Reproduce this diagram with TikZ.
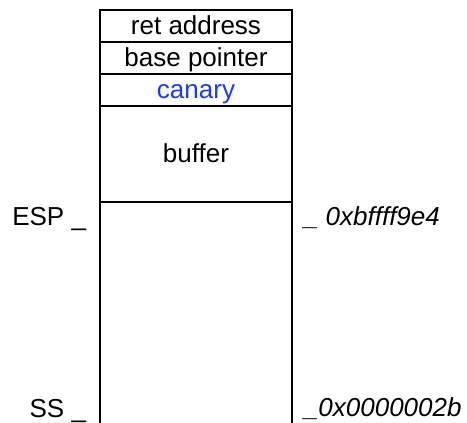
\documentclass[tikz,border=0pt]{standalone}
\usepackage{fontspec}
\setmainfont{Liberation Sans}
\definecolor{canaryblue}{RGB}{28,58,255}
\begin{document}
\begin{tikzpicture}[x=1pt,y=-1pt,
  every node/.style={font=\fontsize{26}{30}\selectfont},
  cell/.style={draw,line width=2pt,minimum width=192pt,inner sep=0pt,outer sep=0pt,
    text height=17pt,text depth=0.5pt,anchor=north west},
  lbl/.style={inner sep=0pt,outer sep=0pt}]
\useasboundingbox (0,0) rectangle (467,423);
\node[cell,minimum height=32pt] (ret) at (100,10) {ret address};
\node[cell,minimum height=32pt] (bp) at (100,42) {base pointer};
\node[cell,minimum height=32pt,text=canaryblue] (can) at (100,74) {canary};
\node[cell,minimum height=96pt] (buf) at (100,106) {buffer};
\coordinate (bl) at (100,440);
\coordinate (br) at (292,440);
\draw[line width=2pt] (bl) -- (buf.south west) -- (buf.south east) -- (br);
\node[lbl,anchor=base east] (esp) at (86,225) {ESP \_};
\node[lbl,anchor=base east] (ss) at (86,417) {SS \_};
\node[lbl,anchor=base west,font=\fontsize{26}{30}\selectfont\itshape] (espa) at (304,225) {\_ 0xbffff9e4};
\node[lbl,anchor=base west,font=\fontsize{26}{30}\selectfont\itshape] (ssa) at (304,416) {\_0x0000002b};
\end{tikzpicture}
\end{document}
